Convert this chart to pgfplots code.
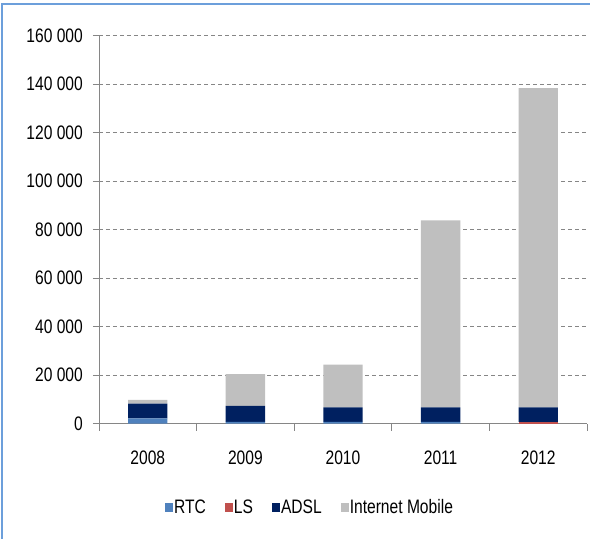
\documentclass[border=0pt]{standalone}
\usepackage{fontspec}
\setmainfont{Liberation Sans}[FakeStretch=0.8]
\usepackage{pgfplots}
\pgfplotsset{compat=1.18}
\definecolor{rtc}{HTML}{4F81BD}
\definecolor{ls}{HTML}{C0504D}
\definecolor{adsl}{HTML}{002060}
\definecolor{im}{HTML}{BFBFBF}
\definecolor{framec}{HTML}{6C9FDB}
\definecolor{axg}{HTML}{868686}
\newcommand{\lf}{\fontsize{19.5bp}{22bp}\selectfont}
\begin{document}
\begin{tikzpicture}
\useasboundingbox (-99bp,-115.5bp) rectangle (491bp,423.5bp);
\begin{axis}[
  at={(0,0)}, anchor=south west,
  scale only axis, width=488bp, height=388bp,
  ybar stacked, bar width=39.4bp,
  xmin=-0.5, xmax=4.5, ymin=0, ymax=160000,
  enlargelimits=false,
  axis lines=left, axis line style={-, draw=axg, line width=0.8bp},
  xtick={0,1,2,3,4}, xticklabels={2008,2009,2010,2011,2012},
  minor xtick={-0.5,0.5,1.5,2.5,3.5,4.5},
  major x tick style={draw=none},
  minor x tick style={draw=axg, line width=0.8bp},
  minor tick length=7bp,
  ytick={0,20000,...,160000},
  major y tick style={draw=axg, line width=0.8bp},
  major tick length=6bp,
  tick align=outside,
  ymajorgrids, major grid style={draw=axg, dash pattern=on 4bp off 3bp, line width=0.8bp},
  scaled y ticks=false,
  /pgf/number format/assume math mode=true,
  /pgf/number format/fixed,
  /pgf/number format/1000 sep={\ },
  tick label style={font=\lf, text=black},
  yticklabel style={anchor=east, inner sep=0pt, xshift=-10bp},
  xticklabel style={anchor=north, inner sep=0pt, yshift=-21bp},
  legend columns=-1,
  legend image code/.code={\fill[#1] (0bp,-4.5bp) rectangle (8bp,4.5bp);},
  legend style={at={(0.1352,-0.2165)}, anchor=west, draw=none, fill=none,
    font=\lf, inner sep=0pt,
    nodes={inner sep=1bp},
    /tikz/every even column/.append style={column sep=18bp}},
]
\addplot[fill=rtc, draw=none] coordinates {(0,2150) (1,700) (2,700) (3,700) (4,0)};
\addplot[fill=ls, draw=none] coordinates {(0,0) (1,0) (2,0) (3,0) (4,700)};
\addplot[fill=adsl, draw=none] coordinates {(0,6000) (1,6600) (2,5900) (3,5900) (4,5900)};
\addplot[fill=im, draw=none] coordinates {(0,1550) (1,13100) (2,17700) (3,77200) (4,131700)};
\legend{RTC,LS,ADSL,Internet Mobile}
\end{axis}
\draw[framec, line width=2bp] (-97bp,-115.5bp) -- (-97bp,419.5bp) -- (491bp,419.5bp);
\end{tikzpicture}
\end{document}
